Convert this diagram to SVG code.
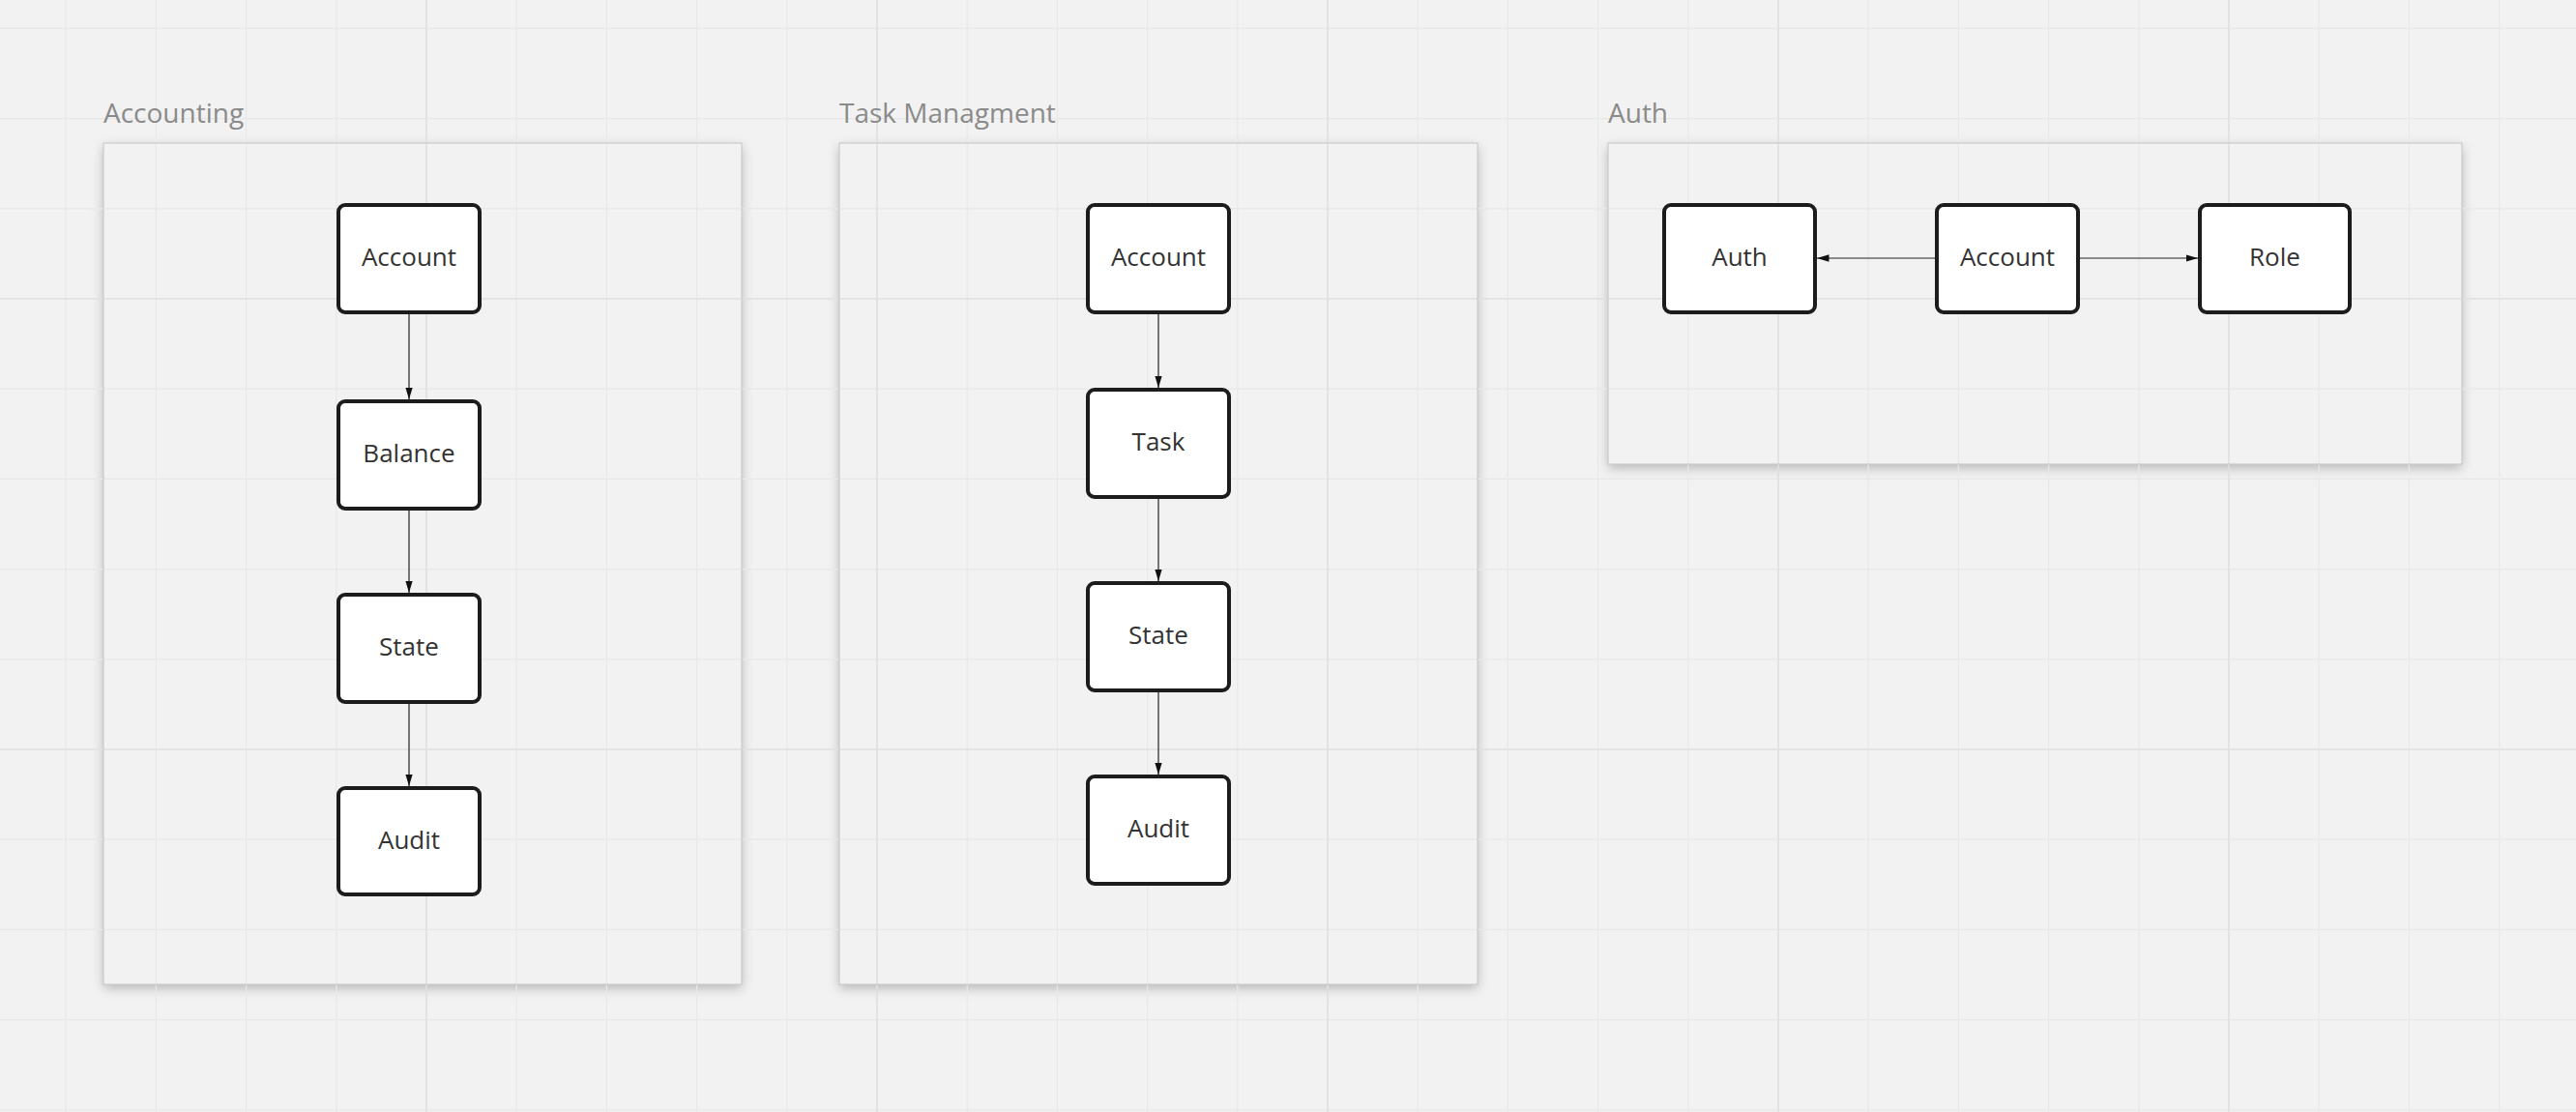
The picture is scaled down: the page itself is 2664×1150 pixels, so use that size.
<svg xmlns="http://www.w3.org/2000/svg" width="2664" height="1150" viewBox="0 0 2664 1150">
<defs>
<style>
.minor{stroke:#e8e8e8;stroke-width:1.2;fill:none}
.major{stroke:#dfdfdf;stroke-width:1.6;fill:none}
.frame{fill:#f2f2f2;stroke:none}
.frame-edge{fill:none;stroke:#cbcbcb;stroke-width:1.2}
.flabel{font-family:"Open Sans","Noto Sans",sans-serif;font-size:28px;fill:#8a8a8a}
.node rect{fill:#ffffff;stroke:#1c1c1c;stroke-width:4}
.node text{font-family:"Open Sans","Noto Sans",sans-serif;font-size:26px;fill:#333333;text-anchor:middle}
.conn{stroke:#222222;stroke-width:1.2;fill:none;marker-end:url(#arrow)}
</style>
<filter id="shadow" x="-10%" y="-10%" width="120%" height="125%">
<feDropShadow dx="0" dy="4" stdDeviation="6" flood-color="#000000" flood-opacity="0.25"/>
</filter>
<marker id="arrow" markerUnits="userSpaceOnUse" markerWidth="13" markerHeight="8" refX="12.5" refY="3.75" orient="auto">
<path d="M0,0 L12.5,3.75 L0,7.5 z" fill="#111111"/>
</marker>
</defs>
<rect x="0" y="0" width="2664" height="1150" fill="#f2f2f2"/>
<g id="frame-shadows">
<rect class="frame" x="107" y="148" width="660" height="870" filter="url(#shadow)"/>
<rect class="frame" x="868" y="148" width="660" height="870" filter="url(#shadow)"/>
<rect class="frame" x="1663" y="148" width="883" height="332" filter="url(#shadow)"/>
</g>
<g id="grid">
<path class="minor" d="M68.2,0V1150M161.4,0V1150M254.6,0V1150M347.8,0V1150M534.2,0V1150M627.4,0V1150M720.6,0V1150M813.8,0V1150M1000.2,0V1150M1093.4,0V1150M1186.6,0V1150M1279.8,0V1150M1466.2,0V1150M1559.4,0V1150M1652.6,0V1150M1745.8,0V1150M1932.2,0V1150M2025.4,0V1150M2118.6,0V1150M2211.8,0V1150M2398.2,0V1150M2491.4,0V1150M2584.6,0V1150"/>
<path class="minor" d="M0,29.4H2664M0,122.6H2664M0,215.8H2664M0,402.2H2664M0,495.4H2664M0,588.6H2664M0,681.8H2664M0,868.2H2664M0,961.4H2664M0,1054.6H2664M0,1147.8H2664"/>
<path class="major" d="M441,0V1150M907,0V1150M1373,0V1150M1839,0V1150M2305,0V1150M0,309H2664M0,775H2664"/>
</g>
<g id="frame-accounting">
<rect class="frame-edge" x="107" y="148" width="660" height="870"/>
<text class="flabel" x="107" y="127">Accounting</text>
</g>
<g id="frame-task">
<rect class="frame-edge" x="868" y="148" width="660" height="870"/>
<text class="flabel" x="868" y="127">Task Managment</text>
</g>
<g id="frame-auth">
<rect class="frame-edge" x="1663" y="148" width="883" height="332"/>
<text class="flabel" x="1663" y="127">Auth</text>
</g>
<g id="connectors">
<line class="conn" x1="423" y1="325" x2="423" y2="413"/>
<line class="conn" x1="423" y1="528" x2="423" y2="613"/>
<line class="conn" x1="423" y1="728" x2="423" y2="813"/>
<line class="conn" x1="1198" y1="325" x2="1198" y2="401"/>
<line class="conn" x1="1198" y1="516" x2="1198" y2="601"/>
<line class="conn" x1="1198" y1="716" x2="1198" y2="801"/>
<line class="conn" x1="2001" y1="267" x2="1879" y2="267"/>
<line class="conn" x1="2151" y1="267" x2="2273" y2="267"/>
</g>
<g id="acc-account" class="node"><rect x="350" y="212" width="146" height="111" rx="7"/><text x="423" y="275">Account</text></g>
<g id="acc-balance" class="node"><rect x="350" y="415" width="146" height="111" rx="7"/><text x="423" y="478">Balance</text></g>
<g id="acc-state" class="node"><rect x="350" y="615" width="146" height="111" rx="7"/><text x="423" y="678">State</text></g>
<g id="acc-audit" class="node"><rect x="350" y="815" width="146" height="110" rx="7"/><text x="423" y="878">Audit</text></g>
<g id="task-account" class="node"><rect x="1125" y="212" width="146" height="111" rx="7"/><text x="1198" y="275">Account</text></g>
<g id="task-task" class="node"><rect x="1125" y="403" width="146" height="111" rx="7"/><text x="1198" y="466">Task</text></g>
<g id="task-state" class="node"><rect x="1125" y="603" width="146" height="111" rx="7"/><text x="1198" y="666">State</text></g>
<g id="task-audit" class="node"><rect x="1125" y="803" width="146" height="111" rx="7"/><text x="1198" y="866">Audit</text></g>
<g id="auth-auth" class="node"><rect x="1721" y="212" width="156" height="111" rx="7"/><text x="1799" y="275">Auth</text></g>
<g id="auth-account" class="node"><rect x="2003" y="212" width="146" height="111" rx="7"/><text x="2076" y="275">Account</text></g>
<g id="auth-role" class="node"><rect x="2275" y="212" width="155" height="111" rx="7"/><text x="2352.5" y="275">Role</text></g>
</svg>
